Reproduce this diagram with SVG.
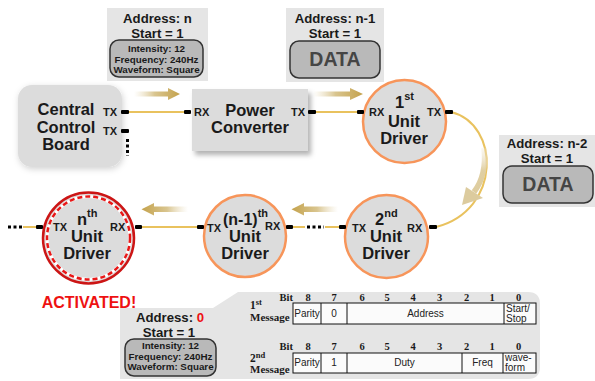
<svg xmlns="http://www.w3.org/2000/svg" width="595" height="381" viewBox="0 0 595 381">
<defs>
  <linearGradient id="gRight" x1="0" y1="0" x2="1" y2="0">
    <stop offset="0" stop-color="#e8dcbc" stop-opacity="0"/>
    <stop offset="0.45" stop-color="#d9c58f"/>
    <stop offset="1" stop-color="#c4a24c"/>
  </linearGradient>
  <linearGradient id="gLeft" x1="1" y1="0" x2="0" y2="0">
    <stop offset="0" stop-color="#e8dcbc" stop-opacity="0"/>
    <stop offset="0.45" stop-color="#d9c58f"/>
    <stop offset="1" stop-color="#c4a24c"/>
  </linearGradient>
  <linearGradient id="gCurve" gradientUnits="userSpaceOnUse" x1="0" y1="148" x2="0" y2="205">
    <stop offset="0" stop-color="#efe6cf" stop-opacity="0.3"/>
    <stop offset="0.4" stop-color="#e0cfa2"/>
    <stop offset="1" stop-color="#dccb9e"/>
  </linearGradient>
  <filter id="softShadow" x="-20%" y="-20%" width="140%" height="140%">
    <feGaussianBlur in="SourceAlpha" stdDeviation="3"/>
    <feOffset dx="1" dy="2" result="b"/>
    <feFlood flood-color="#000" flood-opacity="0.18"/>
    <feComposite in2="b" operator="in"/>
    <feMerge><feMergeNode/><feMergeNode in="SourceGraphic"/></feMerge>
  </filter>
  <filter id="dropShadow" x="-20%" y="-20%" width="140%" height="150%">
    <feGaussianBlur in="SourceAlpha" stdDeviation="2.5"/>
    <feOffset dx="3" dy="4" result="b"/>
    <feFlood flood-color="#000" flood-opacity="0.3"/>
    <feComposite in2="b" operator="in"/>
    <feMerge><feMergeNode/><feMergeNode in="SourceGraphic"/></feMerge>
  </filter>
</defs>
<style>
  .b { font-family: "Liberation Sans", Arial, sans-serif; font-weight: bold; fill: #1a1a1a; }
  .big { font-size: 16.5px; text-anchor: middle; }
  .port { font-size: 11px; }
  .addr { font-size: 13.2px; text-anchor: middle; }
  .info { font-size: 9.8px; text-anchor: middle; }
  .data { font-size: 19.5px; text-anchor: middle; fill: #454545; }
  .abox { fill: #e5e5e5; }
  .pill { fill: #b9b9b9; stroke: #333; stroke-width: 1.5; }
  .node { fill: #dcdcdc; }
  .unit { fill: #dcdcdc; stroke: #f7955a; stroke-width: 2.5; }
  .pt { fill: #000; }
  .wire { fill: none; stroke: #e9c25e; stroke-width: 2; }
  .dots { fill: none; stroke: #000; stroke-width: 3; stroke-dasharray: 3 2.5; }
  .serif { font-family: "Liberation Serif", "Times New Roman", serif; font-weight: bold; fill: #1a1a1a; }
  .cell { font-family: "Liberation Sans", Arial, sans-serif; font-size: 10px; fill: #222; }
  .mid { text-anchor: middle; }
  .tbl { fill: #fbfbfb; stroke: #111; stroke-width: 1; }
  .tl { stroke: #111; stroke-width: 1; }
</style>
<rect width="595" height="381" fill="#ffffff"/>

<!-- bottom info panel -->
<g id="message-panel">
  <path d="M120,308 H213 L238,292 H528 Q540,292 540,304 V367 Q540,379 528,379 H120 Z" fill="#e5e5e5"/>
  <text class="b addr" x="170" y="321.5">Address: <tspan fill="#ee1111">0</tspan></text>
  <text class="b addr" x="169" y="336.5">Start = 1</text>
  <rect class="pill" x="125" y="339" width="91" height="37" rx="9"/>
  <text class="b info" x="170.5" y="349">Intensity: 12</text>
  <text class="b info" x="170.5" y="359.5">Frequency: 240Hz</text>
  <text class="b info" x="170.5" y="370">Waveform: Square</text>

  <!-- 1st message -->
  <text class="serif" x="250" y="309" font-size="11.5">1<tspan font-size="8.5" dy="-4">st</tspan></text>
  <text class="serif" x="250" y="321" font-size="11">Message</text>
  <text class="serif" x="293" y="301" font-size="10.5" text-anchor="end">Bit</text>
  <g class="serif" font-size="10.5" text-anchor="middle">
    <text x="308" y="301">8</text><text x="334" y="301">7</text><text x="362" y="301">6</text>
    <text x="387" y="301">5</text><text x="413" y="301">4</text><text x="439.5" y="301">3</text>
    <text x="466.5" y="301">2</text><text x="492" y="301">1</text><text x="518.5" y="301">0</text>
  </g>
  <rect class="tbl" x="293" y="303" width="243" height="21"/>
  <line class="tl" x1="321" y1="303" x2="321" y2="324"/>
  <line class="tl" x1="347" y1="303" x2="347" y2="324"/>
  <line class="tl" x1="504" y1="303" x2="504" y2="324"/>
  <text class="cell mid" x="307" y="317">Parity</text>
  <text class="cell mid" x="334" y="317">0</text>
  <text class="cell mid" x="425.5" y="317">Address</text>
  <text class="cell" x="506" y="311.5">Start/</text>
  <text class="cell" x="506" y="321.5">Stop</text>

  <!-- 2nd message -->
  <text class="serif" x="250" y="362" font-size="11.5">2<tspan font-size="8.5" dy="-4">nd</tspan></text>
  <text class="serif" x="250" y="373" font-size="11">Message</text>
  <text class="serif" x="293" y="350" font-size="10.5" text-anchor="end">Bit</text>
  <g class="serif" font-size="10.5" text-anchor="middle">
    <text x="308" y="350">8</text><text x="334" y="350">7</text><text x="362" y="350">6</text>
    <text x="387" y="350">5</text><text x="413" y="350">4</text><text x="439.5" y="350">3</text>
    <text x="466.5" y="350">2</text><text x="492" y="350">1</text><text x="518.5" y="350">0</text>
  </g>
  <rect class="tbl" x="293" y="353" width="243" height="20"/>
  <line class="tl" x1="321" y1="353" x2="321" y2="373"/>
  <line class="tl" x1="347" y1="353" x2="347" y2="373"/>
  <line class="tl" x1="462" y1="353" x2="462" y2="373"/>
  <line class="tl" x1="503" y1="353" x2="503" y2="373"/>
  <text class="cell mid" x="307" y="366">Parity</text>
  <text class="cell mid" x="334" y="366">1</text>
  <text class="cell mid" x="404.5" y="366">Duty</text>
  <text class="cell mid" x="482.5" y="366">Freq</text>
  <text class="cell" x="505" y="361">wave-</text>
  <text class="cell" x="505" y="371">form</text>
</g>

<!-- address boxes -->
<g id="addr-n">
  <rect class="abox" x="107" y="8" width="101" height="73"/>
  <text class="b addr" x="157.5" y="22.5">Address: n</text>
  <text class="b addr" x="157.5" y="37.5">Start = 1</text>
  <rect class="pill" x="110" y="40" width="93" height="37" rx="9"/>
  <text class="b info" x="156.5" y="52">Intensity: 12</text>
  <text class="b info" x="156.5" y="62.5">Frequency: 240Hz</text>
  <text class="b info" x="156.5" y="73">Waveform: Square</text>
</g>
<g id="addr-n1">
  <rect class="abox" x="286" y="8" width="98" height="74"/>
  <text class="b addr" x="335" y="22.5">Address: n-1</text>
  <text class="b addr" x="335" y="37.5">Start = 1</text>
  <rect class="pill" x="290" y="41" width="90" height="37" rx="9"/>
  <text class="b data" x="335" y="66">DATA</text>
</g>
<g id="addr-n2">
  <rect class="abox" x="499" y="135" width="96" height="72"/>
  <text class="b addr" x="547" y="148">Address: n-2</text>
  <text class="b addr" x="547" y="162.5">Start = 1</text>
  <rect class="pill" x="503" y="166" width="90" height="37" rx="9"/>
  <text class="b data" x="548" y="191">DATA</text>
</g>

<!-- connectors -->
<g id="connectors">
  <line class="wire" x1="128" y1="112" x2="185" y2="112"/>
  <line class="wire" x1="314" y1="112" x2="358" y2="112"/>
  <path class="wire" d="M451,112 C500,124 502,210 436,227"/>
  <line class="wire" x1="343" y1="227" x2="325" y2="227"/>
  <line class="dots" x1="307" y1="227" x2="324" y2="227" stroke-dasharray="3.5 2.5"/>
  <line class="wire" x1="305" y1="227" x2="292" y2="227"/>
  <line class="wire" x1="199" y1="227" x2="140" y2="227"/>
  <line class="wire" x1="37" y1="227" x2="23" y2="227"/>
  <line class="dots" x1="8" y1="227" x2="22" y2="227" stroke-dasharray="3 2"/>
  <!-- flow arrows -->
  <path d="M134,91.5 H168 V88 L180,94 L168,100 V96.5 H134 Z" fill="url(#gRight)"/>
  <path d="M313,91.5 H350 V88 L363,94 L350,100 V96.5 H313 Z" fill="url(#gRight)"/>
  <path d="M188,206.5 H154 V203 L141.5,209.3 L154,215.5 V212 H188 Z" fill="url(#gLeft)"/>
  <path d="M338,206.5 H304 V203 L291.5,209.3 L304,215.5 V212 H338 Z" fill="url(#gLeft)"/>
  <path d="M484,148 Q487,175 474,192" fill="none" stroke="url(#gCurve)" stroke-width="5.5"/>
  <polygon points="462,205 466,187 483,198" fill="#dccb9e"/>
</g>

<!-- nodes -->
<g id="central-control-board">
  <rect class="node" x="18" y="85" width="104" height="82" rx="14" filter="url(#softShadow)"/>
  <text class="b big" x="66" y="115">Central</text>
  <text class="b big" x="66" y="133">Control</text>
  <text class="b big" x="66" y="150">Board</text>
  <text class="b port" x="103" y="116">TX</text>
  <text class="b port" x="103" y="135">TX</text>
  <rect class="pt" x="121" y="110" width="8" height="4" rx="1"/>
  <rect class="pt" x="121" y="129" width="8" height="4" rx="1"/>
  <line class="dots" x1="127.5" y1="139" x2="127.5" y2="156"/>
</g>

<g id="power-converter">
  <rect class="node" x="192" y="89" width="116" height="62" filter="url(#dropShadow)"/>
  <text class="b big" x="250" y="116">Power</text>
  <text class="b big" x="250" y="133">Converter</text>
  <text class="b port" x="194" y="116">RX</text>
  <text class="b port" x="291" y="116">TX</text>
  <rect class="pt" x="184" y="110" width="7" height="4" rx="1"/>
  <rect class="pt" x="308" y="110" width="8" height="4" rx="1"/>
</g>

<g id="unit-driver-1">
  <circle class="unit" cx="404.5" cy="121.5" r="41.5"/>
  <text class="b" x="395" y="108" font-size="16.5">1<tspan font-size="11" dy="-8">st</tspan></text>
  <text class="b big" x="404" y="127">Unit</text>
  <text class="b big" x="404" y="144">Driver</text>
  <text class="b port" x="369" y="116">RX</text>
  <text class="b port" x="427" y="116">TX</text>
  <rect class="pt" x="357" y="110" width="7" height="4" rx="1"/>
  <rect class="pt" x="445" y="110" width="8" height="4" rx="1"/>
</g>

<g id="unit-driver-2">
  <circle class="unit" cx="386.5" cy="236.5" r="41.5"/>
  <text class="b" x="375" y="225" font-size="16.5">2<tspan font-size="11" dy="-8">nd</tspan></text>
  <text class="b big" x="386" y="242">Unit</text>
  <text class="b big" x="386" y="259">Driver</text>
  <text class="b port" x="352" y="232">TX</text>
  <text class="b port" x="407" y="232">RX</text>
  <rect class="pt" x="339" y="225" width="7" height="4" rx="1"/>
  <rect class="pt" x="429" y="225" width="8" height="4" rx="1"/>
</g>

<g id="unit-driver-n-1">
  <circle class="unit" cx="245" cy="236" r="41"/>
  <text class="b" x="223" y="225" font-size="16">(n-1)<tspan font-size="11" dy="-8">th</tspan></text>
  <text class="b big" x="245" y="242">Unit</text>
  <text class="b big" x="245" y="259">Driver</text>
  <text class="b port" x="207" y="232">TX</text>
  <text class="b port" x="265" y="230">RX</text>
  <rect class="pt" x="197" y="225" width="7" height="4" rx="1"/>
  <rect class="pt" x="286" y="225" width="7" height="4" rx="1"/>
</g>

<g id="unit-driver-n">
  <circle cx="88.5" cy="238" r="45.5" fill="#dcdcdc" stroke="#cc1515" stroke-width="2.5"/>
  <circle cx="88.5" cy="238" r="41.5" fill="none" stroke="#ffffff" stroke-width="3"/>
  <circle cx="88.5" cy="238" r="41.5" fill="none" stroke="#e81818" stroke-width="2.5" stroke-dasharray="5 3"/>
  <text class="b" x="77" y="225" font-size="16.5">n<tspan font-size="11" dy="-8">th</tspan></text>
  <text class="b big" x="87" y="242">Unit</text>
  <text class="b big" x="87" y="259">Driver</text>
  <text class="b port" x="53" y="231">TX</text>
  <text class="b port" x="110" y="231">RX</text>
  <rect class="pt" x="36" y="225" width="7" height="4" rx="1"/>
  <rect class="pt" x="135" y="225" width="7" height="4" rx="1"/>
  <text class="b" x="89" y="308" font-size="16" text-anchor="middle" style="fill:#ee1111">ACTIVATED!</text>
</g>
</svg>
